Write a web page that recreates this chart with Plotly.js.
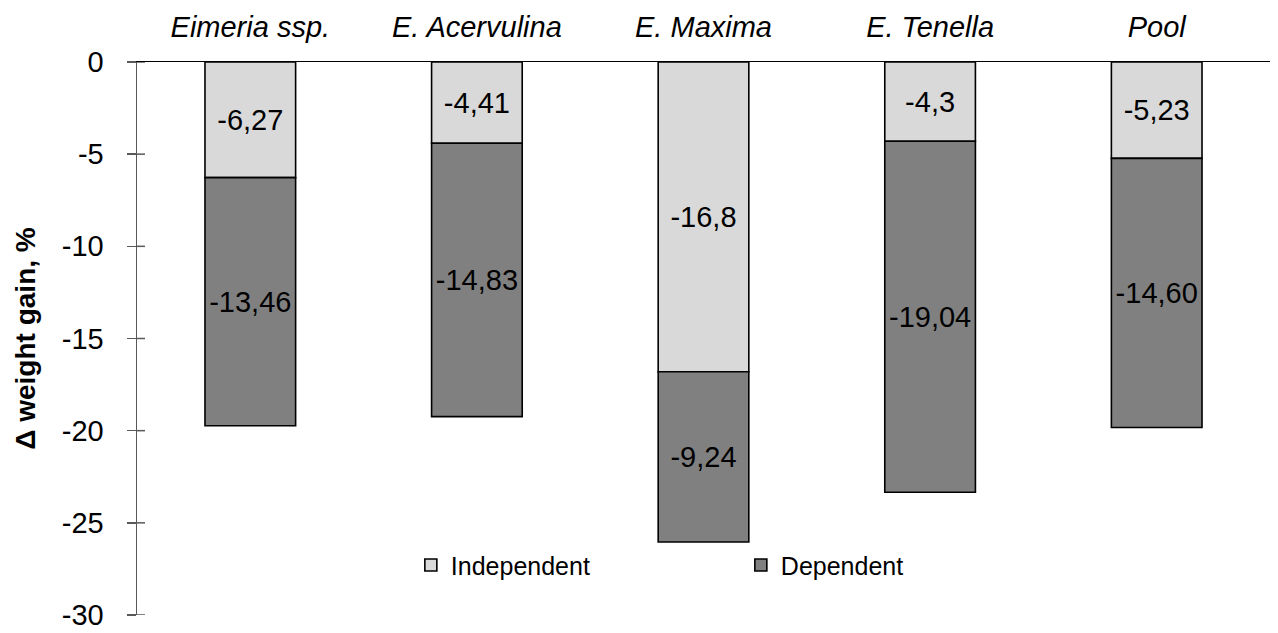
<!DOCTYPE html>
<html>
<head>
<meta charset="utf-8">
<script src="https://cdn.plot.ly/plotly-3.0.1.min.js"></script>
<style>
  html, body { margin: 0; padding: 0; background: #fff; }
  #chart { width: 1278px; height: 633px; }
</style>
</head>
<body>
<div id="chart"></div>
<script>
// Weight-gain loss per Eimeria group, split into independent and dependent parts
const categories = ['Eimeria ssp.', 'E. Acervulina', 'E. Maxima', 'E. Tenella', 'Pool'];
const independentValues = [-6.27, -4.41, -16.8, -4.3, -5.23];
const dependentValues = [-13.46, -14.83, -9.24, -19.04, -14.60];
const independentLabels = ['-6,27', '-4,41', '-16,8', '-4,3', '-5,23'];
const dependentLabels = ['-13,46', '-14,83', '-9,24', '-19,04', '-14,60'];
const yTicks = [0, -5, -10, -15, -20, -25, -30];

const FONT = 'Arial, "Liberation Sans", sans-serif';
const PLOT_WIDTH = 1278 - 137 - 8;

const traces = [
  {
    type: 'bar',
    name: 'Independent',
    x: categories,
    y: independentValues,
    text: independentLabels,
    textposition: 'inside',
    insidetextanchor: 'middle',
    constraintext: 'none',
    textfont: { family: FONT, size: 29, color: '#000' },
    marker: { color: '#d9d9d9', line: { color: '#000', width: 1.6 } },
    hoverinfo: 'skip'
  },
  {
    type: 'bar',
    name: 'Dependent',
    x: categories,
    y: dependentValues,
    text: dependentLabels,
    textposition: 'inside',
    insidetextanchor: 'middle',
    constraintext: 'none',
    textfont: { family: FONT, size: 29, color: '#000' },
    marker: { color: '#808080', line: { color: '#000', width: 1.6 } },
    hoverinfo: 'skip'
  }
];

// Inner half of each y tick (the ticks cross the axis line)
const innerTicks = yTicks.map(v => ({
  type: 'line',
  xref: 'paper', yref: 'y',
  x0: 0, x1: 8 / PLOT_WIDTH,
  y0: v, y1: v,
  line: { color: '#595959', width: 1.5 },
  layer: 'above'
}));

const layout = {
  width: 1278,
  height: 633,
  margin: { l: 137, r: 8, t: 62, b: 18 },
  paper_bgcolor: '#fff',
  plot_bgcolor: '#fff',
  barmode: 'relative',
  bargap: 0.6,
  font: { family: FONT, size: 29, color: '#000' },
  showlegend: true,
  legend: {
    orientation: 'h',
    x: 0.2417, xanchor: 'left',
    y: 0.09, yanchor: 'middle',
    entrywidth: 285,
    font: { family: FONT, size: 25, color: '#000' },
    traceorder: 'normal',
    bgcolor: 'rgba(0,0,0,0)'
  },
  xaxis: {
    side: 'top',
    type: 'category',
    showline: true,
    linecolor: '#000',
    linewidth: 1.5,
    ticks: '',
    showgrid: false,
    zeroline: false,
    tickfont: { family: FONT, size: 29, color: '#000', style: 'italic' },
    ticklabelstandoff: 12,
    fixedrange: true
  },
  yaxis: {
    range: [-30, 0],
    tickvals: yTicks,
    ticktext: yTicks.map(String),
    ticks: 'outside',
    ticklen: 9,
    tickwidth: 1.5,
    tickcolor: '#595959',
    showline: true,
    linecolor: '#595959',
    linewidth: 1.5,
    showgrid: false,
    zeroline: false,
    tickfont: { family: FONT, size: 29, color: '#000' },
    ticklabelstandoff: 17,
    title: {
      text: 'Δ weight gain, %',
      font: { family: FONT, size: 28, color: '#000', weight: 'bold' },
      standoff: 18
    },
    automargin: false,
    fixedrange: true
  },
  shapes: innerTicks
};

Plotly.newPlot('chart', traces, layout, { displayModeBar: false, staticPlot: true });
</script>
</body>
</html>
